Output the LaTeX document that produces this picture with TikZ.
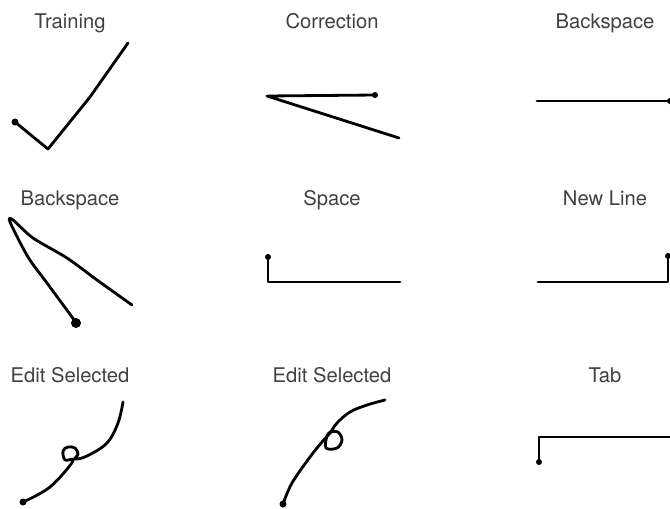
\documentclass[tikz,border=0pt]{standalone}
\usepackage{fontspec}
\setmainfont{TeX Gyre Heros}
\usepackage{tikz}
\usetikzlibrary{calc}

\begin{document}
\begin{tikzpicture}[x=0.02cm,y=-0.02cm]
\tikzset{gname/.style={text=black!75,font=\fontsize{11.5}{14}\selectfont,inner sep=0pt,anchor=base}}
\tikzset{ink/.style={line width=1.6pt,line cap=round,line join=round}}
\useasboundingbox (0,0) rectangle (670,508);

\node (t1) at (70,28) [gname] {Training};
\node (t2) at (332,28) [gname] {Correction};
\node (t3) at (605,28) [gname] {Backspace};
\node (t4) at (70,205) [gname] {Backspace};
\node (t5) at (332,205) [gname] {Space};
\node (t6) at (605,205) [gname] {New Line};
\node (t7) at (70,382) [gname] {Edit Selected};
\node (t8) at (332,382) [gname] {Edit Selected};
\node (t9) at (605,382) [gname] {Tab};

% row 1
\draw [ink] (15,122) -- (48,149) -- (90,97) -- (128,43);
\fill (15,122) circle (3.5);
\draw [ink] (375,95) -- (267,96) -- (399,138);
\fill (375,95) circle (3);
\draw [ink] (670,101) -- (537,101);
\fill (670,101) circle (3);

% row 2
\draw [ink] plot [smooth,tension=0.5] coordinates {(76,323) (72,317) (47,283) (28,257) (10,222) (13,220) (33,238) (67,258) (97,280) (132,305)};
\fill (76,323) circle (5);
\draw [ink] (268,257) -- (268,282) -- (400,282);
\fill (268,257) circle (3);
\draw [ink] (668,256) -- (668,282) -- (538,282);
\fill (668,256) circle (3);

% row 3
\draw [ink] plot [smooth,tension=0.6] coordinates {(23,502) (50,487) (73,461) (65,460) (63,451) (68,447) (75,448) (78,454) (75,459) (87,456) (107,443) (118,423) (123,402)};
\fill (23,502) circle (3.5);
\draw [ink] plot [smooth,tension=0.6] coordinates {(283,504) (292,483) (310,457) (322,442) (330,433) (337,423) (350,412) (367,405) (385,400)};
\draw [ink] plot [smooth cycle,tension=0.6] coordinates {(327,436) (326,448) (337,448) (342,440) (338,432) (331,432)};
\fill (283,504) circle (3.5);
\draw [ink] (539,462) -- (539,437) -- (670,437);
\fill (539,462) circle (3);
\end{tikzpicture}
\end{document}
